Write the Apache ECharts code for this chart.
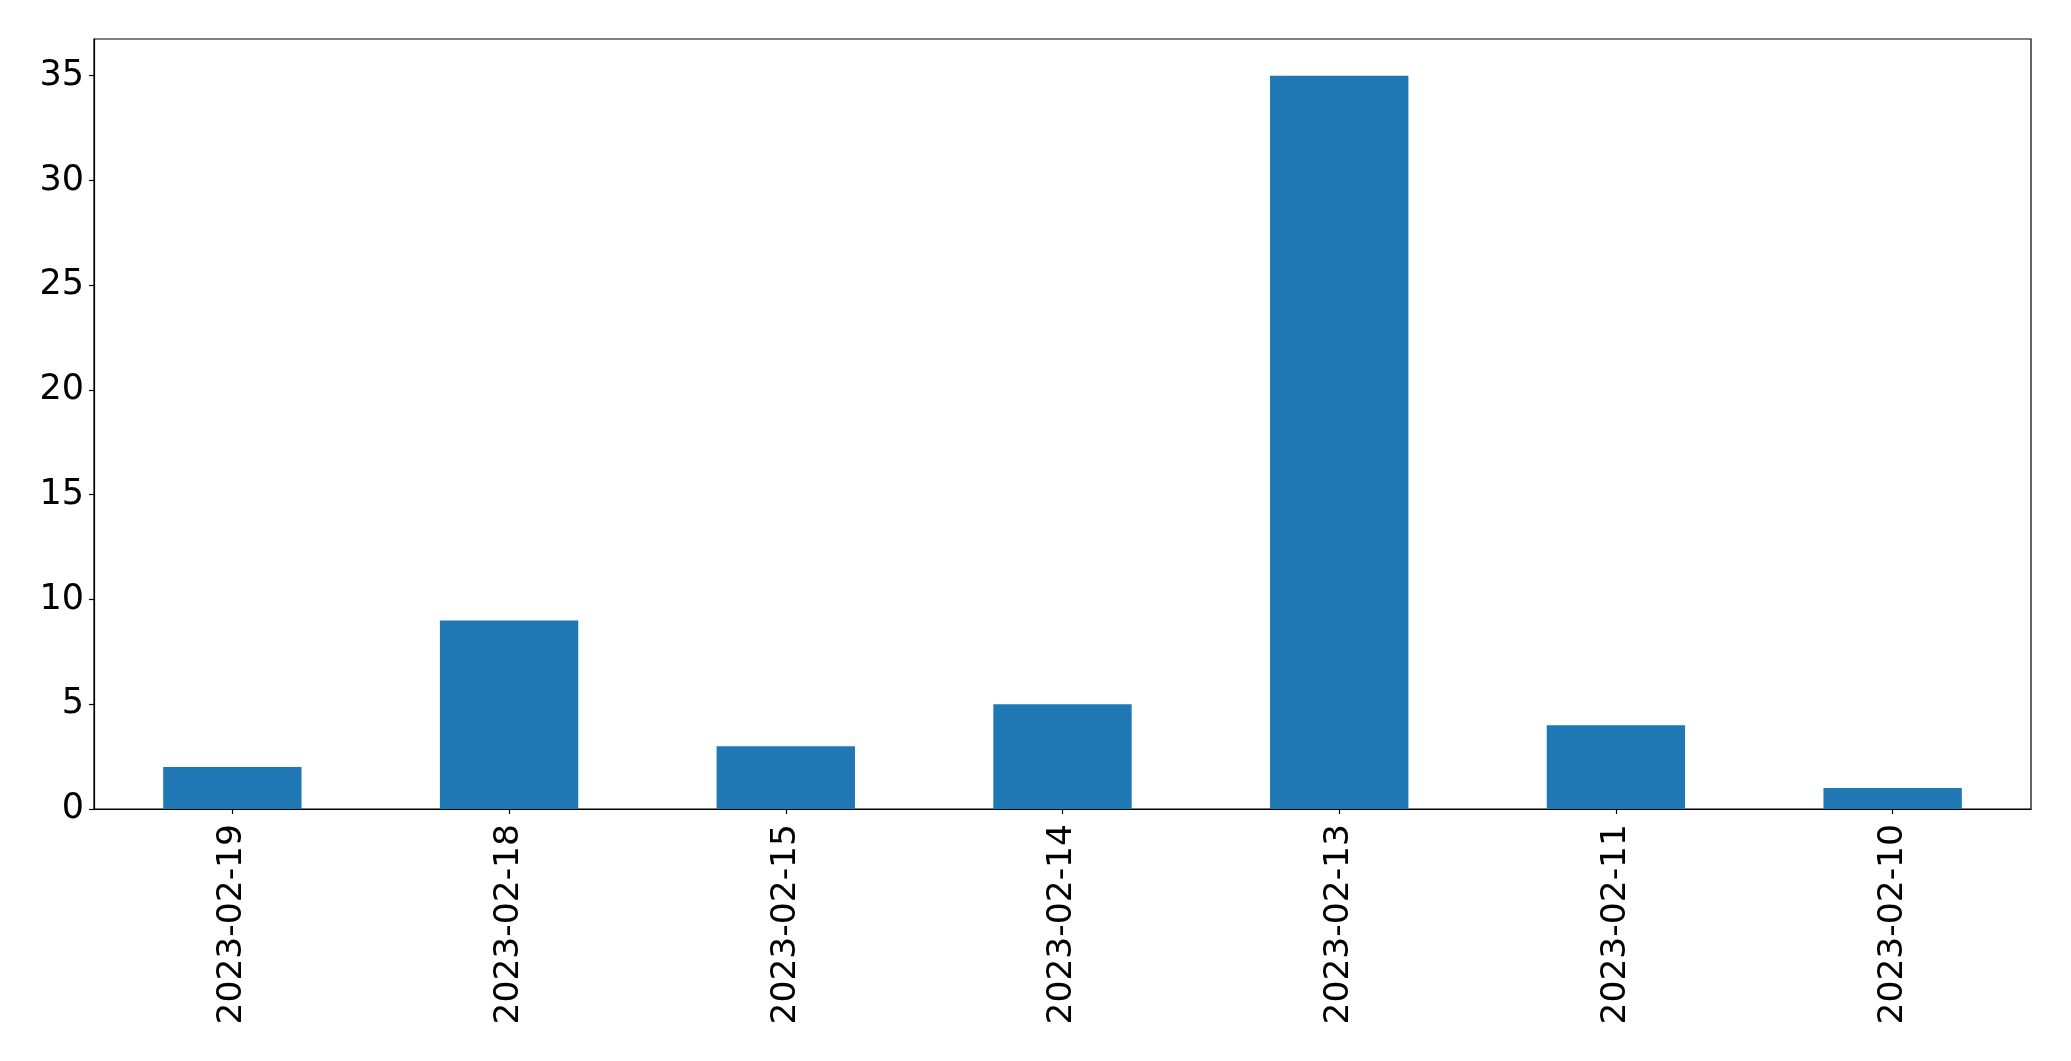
<!DOCTYPE html>
<html>
<head>
<meta charset="utf-8">
<script src="https://cdn.jsdelivr.net/npm/echarts@6/dist/echarts.min.js"></script>
<style>
html,body{margin:0;padding:0;background:#fff;}
#chart{width:2071px;height:1061px;}
</style>
</head>
<body>
<div id="chart"></div>
<script>
const categories = ["2023-02-19","2023-02-18","2023-02-15","2023-02-14","2023-02-13","2023-02-11","2023-02-10"];
const counts = [2, 9, 3, 5, 35, 4, 1];
const yTicks = [0, 5, 10, 15, 20, 25, 30, 35];

const chart = echarts.init(document.getElementById('chart'), null, {renderer: 'canvas'});
const font = 'DejaVu Sans';
chart.setOption({
  animation: false,
  backgroundColor: '#ffffff',
  grid: {
    left: 94, right: 40, top: 39, bottom: 252,
    show: true, borderColor: '#000', borderWidth: 1.2, backgroundColor: 'transparent'
  },
  xAxis: {
    type: 'category',
    data: categories,
    boundaryGap: true,
    axisLine: {show: true, lineStyle: {color: '#000', width: 1.2}},
    axisTick: {show: true, alignWithLabel: true, length: 5, lineStyle: {color: '#000', width: 1.2}},
    axisLabel: {rotate: 90, margin: 15, color: '#000', fontFamily: font, fontSize: 34.5, interval: 0},
    splitLine: {show: false}
  },
  yAxis: {
    type: 'value',
    min: 0,
    max: 36.75,
    interval: 5,
    axisLine: {show: true, lineStyle: {color: '#000', width: 1.2}},
    axisTick: {show: true, length: 5, lineStyle: {color: '#000', width: 1.2}, customValues: yTicks},
    axisLabel: {color: '#000', fontFamily: font, fontSize: 35, margin: 10, customValues: yTicks},
    splitLine: {show: false}
  },
  series: [{
    type: 'bar',
    data: counts,
    barWidth: '50%',
    itemStyle: {color: '#1f77b4'}
  }]
});
</script>
</body>
</html>
